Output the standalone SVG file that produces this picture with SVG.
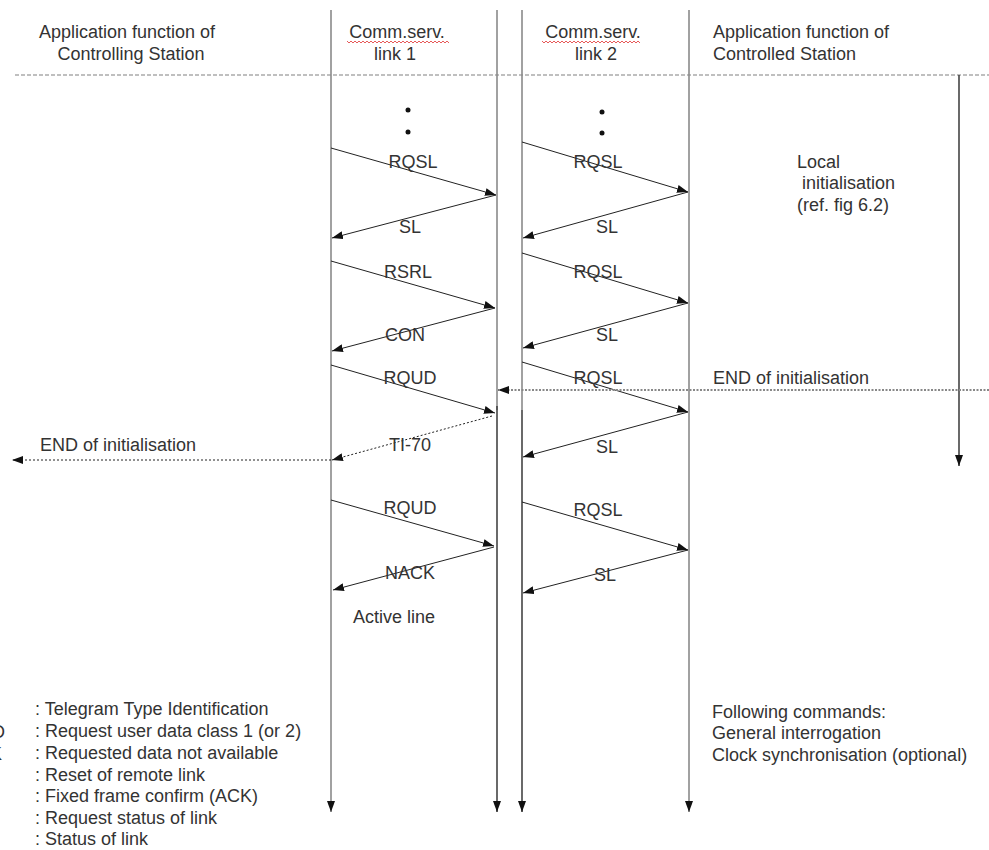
<svg xmlns="http://www.w3.org/2000/svg" width="989" height="850" viewBox="0 0 989 850">
<style>
  text { font-family: "Liberation Sans", Arial, sans-serif; font-size: 18px; fill: #333; }
  .mid { text-anchor: middle; }
  .life { stroke: #8a8a8a; stroke-width: 1.6; fill: none; }
  .lifed { stroke: #444; stroke-width: 1.6; fill: none; }
  .msg { stroke: #222; stroke-width: 1; fill: none; marker-end: url(#ah); }
  .dot { stroke: #222; stroke-width: 1; stroke-dasharray: 2 2; fill: none; marker-end: url(#ah); }
  .dotg { stroke: #888; stroke-width: 2; stroke-dasharray: 2 1.5; fill: none; marker-end: url(#ah); }
  .sep { stroke: #aaa; stroke-width: 1.5; stroke-dasharray: 4 2; fill: none; }
</style>
<defs>
  <marker id="ah" markerUnits="userSpaceOnUse" markerWidth="11" markerHeight="8" refX="11" refY="4" orient="auto">
    <path d="M0,0 L11,4 L0,8 z" fill="#111"/>
  </marker>
</defs>
<rect width="989" height="850" fill="#fff"/>

<line class="sep" x1="15" y1="75" x2="989" y2="75"/>

<g id="controlling-station">
  <text class="mid" x="127" y="38">Application function of</text>
  <text class="mid" x="131" y="60">Controlling Station</text>
</g>
<g id="link1-header">
  <text class="mid" x="397" y="38">Comm.serv.</text>
  <path d="M347,41 l2,2 l2,-2 l2,2 l2,-2 l2,2 l2,-2 l2,2 l2,-2 l2,2 l2,-2 l2,2 l2,-2 l2,2 l2,-2 l2,2 l2,-2 l2,2 l2,-2 l2,2 l2,-2 l2,2 l2,-2 l2,2 l2,-2 l2,2 l2,-2 l2,2 l2,-2 l2,2 l2,-2 l2,2 l2,-2 l2,2 l2,-2 l2,2 l2,-2 l2,2 l2,-2 l2,2 l2,-2 l2,2 l2,-2 l2,2 l2,-2 l2,2 l2,-2 l2,2 l2,-2 l2,2 l2,-2 l2,2" stroke="#e03030" stroke-width="0.8" fill="none"/>
  <text class="mid" x="395" y="60">link 1</text>
</g>
<g id="link2-header">
  <text class="mid" x="593" y="38">Comm.serv.</text>
  <path d="M542,41 l2,2 l2,-2 l2,2 l2,-2 l2,2 l2,-2 l2,2 l2,-2 l2,2 l2,-2 l2,2 l2,-2 l2,2 l2,-2 l2,2 l2,-2 l2,2 l2,-2 l2,2 l2,-2 l2,2 l2,-2 l2,2 l2,-2 l2,2 l2,-2 l2,2 l2,-2 l2,2 l2,-2 l2,2 l2,-2 l2,2 l2,-2 l2,2 l2,-2 l2,2 l2,-2 l2,2 l2,-2 l2,2 l2,-2 l2,2 l2,-2 l2,2 l2,-2 l2,2 l2,-2 l2,2" stroke="#e03030" stroke-width="0.8" fill="none"/>
  <text class="mid" x="596" y="60">link 2</text>
</g>
<g id="controlled-station">
  <text x="713" y="38">Application function of</text>
  <text x="713" y="60">Controlled Station</text>
</g>

<g id="lifelines">
  <line class="life" x1="331" y1="10" x2="331" y2="812" marker-end="url(#ah)"/>
  <line class="life" x1="497" y1="10" x2="497" y2="410"/>
  <line class="lifed" x1="497" y1="406" x2="497" y2="812" marker-end="url(#ah)"/>
  <line class="life" x1="522" y1="10" x2="522" y2="410"/>
  <line class="lifed" x1="522" y1="410" x2="522" y2="812" marker-end="url(#ah)"/>
  <line class="life" x1="689" y1="10" x2="689" y2="812" marker-end="url(#ah)"/>
  <line class="lifed" x1="959" y1="75" x2="959" y2="466" marker-end="url(#ah)"/>
</g>

<g id="dots">
  <circle cx="408" cy="110" r="2.5" fill="#111"/>
  <circle cx="408" cy="132" r="2.5" fill="#111"/>
  <circle cx="602" cy="112" r="2.5" fill="#111"/>
  <circle cx="602" cy="133" r="2.5" fill="#111"/>
</g>

<g id="connectors">
  <line class="msg" x1="331" y1="148" x2="496" y2="195"/>
  <line class="msg" x1="496" y1="195" x2="332" y2="238"/>
  <line class="msg" x1="331" y1="261" x2="495" y2="308"/>
  <line class="msg" x1="495" y1="308" x2="332" y2="351"/>
  <line class="msg" x1="331" y1="365" x2="495" y2="413"/>
  <line class="dot" x1="492" y1="416" x2="332" y2="460"/>
  <line class="dot" x1="331" y1="460" x2="12" y2="460"/>
  <line class="msg" x1="331" y1="500" x2="494" y2="546"/>
  <line class="msg" x1="494" y1="547" x2="333" y2="590"/>

  <line class="msg" x1="522" y1="142" x2="688" y2="192"/>
  <line class="msg" x1="688" y1="192" x2="523" y2="238"/>
  <line class="msg" x1="522" y1="253" x2="688" y2="303"/>
  <line class="msg" x1="688" y1="303" x2="523" y2="348"/>
  <line class="msg" x1="522" y1="362" x2="688" y2="412"/>
  <line class="msg" x1="688" y1="412" x2="523" y2="457"/>
  <line class="msg" x1="522" y1="502" x2="688" y2="550"/>
  <line class="msg" x1="688" y1="550" x2="523" y2="593"/>

  <line class="dotg" x1="989" y1="390" x2="498" y2="390"/>
</g>

<g id="labels-link1">
  <text class="mid" x="413" y="168">RQSL</text>
  <text class="mid" x="410" y="233">SL</text>
  <text class="mid" x="408" y="278">RSRL</text>
  <text class="mid" x="405" y="341">CON</text>
  <text class="mid" x="410" y="384">RQUD</text>
  <text class="mid" x="410" y="451">TI-70</text>
  <text class="mid" x="410" y="514">RQUD</text>
  <text class="mid" x="410" y="579">NACK</text>
  <text x="353" y="623">Active line</text>
</g>
<g id="labels-link2">
  <text class="mid" x="598" y="168">RQSL</text>
  <text class="mid" x="607" y="233">SL</text>
  <text class="mid" x="598" y="278">RQSL</text>
  <text class="mid" x="607" y="341">SL</text>
  <text class="mid" x="598" y="384">RQSL</text>
  <text class="mid" x="607" y="453">SL</text>
  <text class="mid" x="598" y="516">RQSL</text>
  <text class="mid" x="605" y="581">SL</text>
</g>

<g id="end-left">
  <text x="40" y="451">END of initialisation</text>
</g>
<g id="end-right">
  <text x="713" y="384">END of initialisation</text>
</g>
<g id="local-init">
  <text x="797" y="168">Local</text>
  <text x="802" y="189">initialisation</text>
  <text x="797" y="211">(ref. fig 6.2)</text>
</g>

<g id="legend">
  <text x="-48" y="738">RQUD</text>
  <text x="-48" y="760">NACK</text>
  <text x="35" y="715">: Telegram Type Identification</text>
  <text x="35" y="737">: Request user data class 1 (or 2)</text>
  <text x="35" y="759">: Requested data not available</text>
  <text x="35" y="781">: Reset of remote link</text>
  <text x="35" y="802">: Fixed frame confirm (ACK)</text>
  <text x="35" y="824">: Request status of link</text>
  <text x="35" y="845">: Status of link</text>
</g>

<g id="following-commands">
  <text x="712" y="718">Following commands:</text>
  <text x="712" y="739">General interrogation</text>
  <text x="712" y="761">Clock synchronisation (optional)</text>
</g>
</svg>
